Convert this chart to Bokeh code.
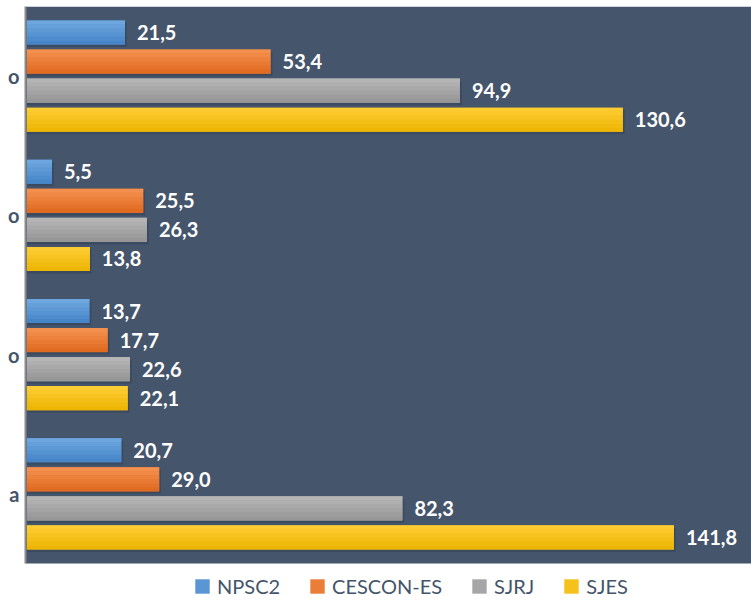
from bokeh.plotting import figure
from bokeh.models import Range1d, FixedTicker, Legend, LegendItem, ColumnDataSource, BoxAnnotation
from bokeh.core.properties import value
from bokeh.embed import file_html
from bokeh.resources import INLINE

# ---- data (top group first) ----
category_labels = ["o", "o", "o", "a"]
series_names = ["NPSC2", "CESCON-ES", "SJRJ", "SJES"]
npsc2 = [21.5, 5.5, 13.7, 20.7]
cescon_es = [53.4, 25.5, 17.7, 29.0]
sjrj = [94.9, 26.3, 22.6, 82.3]
sjes = [130.6, 13.8, 22.1, 141.8]
series_values = [npsc2, cescon_es, sjrj, sjes]

# ---- styles ----
BG = "#45556C"
TEXT_DARK = "#44546A"
FONT = "Lato"
grad = {
    "NPSC2": ("#72AAE2", "#4282C6"),
    "CESCON-ES": ("#F59453", "#DF671C"),
    "SJRJ": ("#B8B8B8", "#949494"),
    "SJES": ("#FFCE36", "#EBB400"),
}

def mix(c1, c2, t):
    a = [int(c1[i:i + 2], 16) for i in (1, 3, 5)]
    b = [int(c2[i:i + 2], 16) for i in (1, 3, 5)]
    return "#%02x%02x%02x" % tuple(round(a[k] + (b[k] - a[k]) * t) for k in range(3))

n_cat = len(category_labels)
p = figure(width=751, height=601, output_backend="svg", toolbar_location=None,
           x_range=Range1d(-0.3, 158.8), y_range=Range1d(n_cat - 0.5 + 0.273, -0.5),
           min_border_left=25, min_border_right=0, min_border_top=6, min_border_bottom=0)
p.background_fill_color = "white"
p.border_fill_color = "white"
p.outline_line_color = None
p.xgrid.visible = False
p.ygrid.visible = False
p.xaxis.visible = False

# dark plot area
bg = BoxAnnotation(bottom=n_cat - 0.5, fill_color=BG, fill_alpha=1, line_color=None, level="underlay")
p.add_layout(bg)

yax = p.yaxis[0]
yax.bounds = (-0.5, n_cat - 0.5)
yax.ticker = FixedTicker(ticks=list(range(n_cat)))
yax.major_label_overrides = {i: lab for i, lab in enumerate(category_labels)}
yax.axis_line_color = "#8C8C8C"
yax.axis_line_width = 2
yax.major_tick_line_color = None
yax.minor_tick_line_color = None
yax.major_tick_out = 0
yax.major_tick_in = 0
yax.major_label_text_font = FONT
yax.major_label_text_font_style = "bold"
yax.major_label_text_font_size = "20px"
yax.major_label_text_color = TEXT_DARK
yax.major_label_standoff = 6

pitch = 0.2086
bar_h = 0.1727
nstrip = 6
legend_items = []
for i, (name, vals) in enumerate(zip(series_names, series_values)):
    ys = [c + (i - 1.5) * pitch for c in range(len(vals))]
    # soft shadow
    p.hbar(y=[y + 0.018 for y in ys], left=0, right=[v + 0.4 for v in vals], height=bar_h,
           fill_color="#1c2430", fill_alpha=0.22, line_color=None)
    top, bot = grad[name]
    main = p.hbar(y=ys, left=0, right=vals, height=bar_h,
                  fill_color=mix(top, bot, 0.5), line_color=None)
    sh = bar_h / nstrip
    for k in range(nstrip):
        col = mix(top, bot, (k + 0.5) / nstrip)
        p.hbar(y=[y - bar_h / 2 + sh * (k + 0.5) for y in ys], left=0, right=vals,
               height=sh * 1.02, fill_color=col, line_color=None)
    legend_items.append(LegendItem(label=name, renderers=[main]))
    src = ColumnDataSource(dict(x=vals, y=ys, t=[("%.1f" % v).replace(".", ",") for v in vals]))
    p.text(x="x", y="y", text="t", source=src, x_offset=12,
           text_align="left", text_baseline="middle", text_color="white",
           text_font=value(FONT), text_font_style="bold", text_font_size="20px")

legend = Legend(items=legend_items, orientation="horizontal", location=(168, 3))
legend.background_fill_alpha = 0
legend.border_line_color = None
legend.padding = 0
legend.margin = 0
legend.spacing = 28
legend.glyph_width = 18
legend.glyph_height = 18
legend.label_standoff = 6
legend.label_text_font = FONT
legend.label_text_font_size = "20px"
legend.label_text_color = TEXT_DARK
legend.label_height = 20
p.add_layout(legend, "center")

open("out.html", "w").write(file_html(p, INLINE))
